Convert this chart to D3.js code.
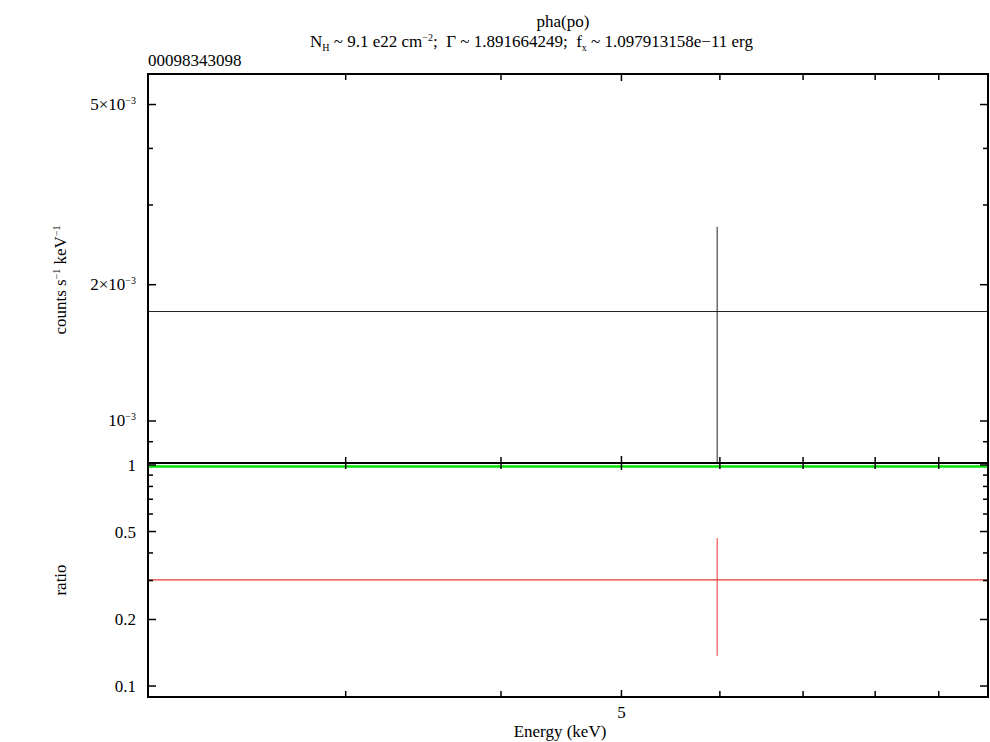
<!DOCTYPE html>
<html>
<head>
<meta charset="utf-8">
<script src="https://cdn.jsdelivr.net/npm/d3@7"></script>
<style>
  body { margin: 0; background: #fff; }
  svg text { fill: #000; }
</style>
</head>
<body>
<script>
// one spectral bin (keV)
var binLo = [2.08];
var binHi = [9.86];
var binMid = [5.97];
var rate = [1.745e-3];
var rateErr = [0.94e-3];
var ratio = [0.302];
var ratioErr = [0.165];
var ratioRef = [1];

var xTicks = [3, 4, 5, 6, 7, 8, 9];
var xLabels = [5];
var rateMajor = [1e-3, 2e-3, 5e-3];
var rateMantissa = ["", "2×", "5×"];
var rateMinor = [9e-4, 3e-3, 4e-3];
var ratioMajor = [0.1, 0.2, 0.5, 1];
var ratioText = ["0.1", "0.2", "0.5", "1"];
var ratioMinor = [0.3, 0.4, 0.6, 0.7, 0.8, 0.9];

var width = 990, height = 742;
var L = 148, R = 988, topY = 74, midY = 463, botY = 697;
var serif = "'Liberation Serif', 'DejaVu Serif', Times, serif";

var svg = d3.select("body").append("svg")
    .attr("width", width)
    .attr("height", height)
    .attr("font-family", serif)
    .style("font-family", serif);

var x = d3.scaleLog().domain([2.08, 9.86]).range([L, R]);
var yTop = d3.scaleLog().domain([0.8077e-3, 5.84e-3]).range([midY, topY]);
var yBot = d3.scaleLog().domain([0.0892, 1.021]).range([botY, midY]);

var defs = svg.append("defs");
defs.append("clipPath").attr("id", "clipTop").append("rect")
    .attr("x", L).attr("y", topY).attr("width", R - L).attr("height", midY - topY);
defs.append("clipPath").attr("id", "clipBot").append("rect")
    .attr("x", L).attr("y", midY).attr("width", R - L).attr("height", botY - midY);

// titles
svg.append("text")
    .attr("x", 563).attr("y", 27)
    .attr("text-anchor", "middle")
    .style("font-size", "17px")
    .text("pha(po)");

var t2 = svg.append("text")
    .attr("x", 310).attr("y", 47)
    .style("font-size", "17px")
    .attr("xml:space", "preserve");
t2.append("tspan").text("N");
t2.append("tspan").attr("dy", 4).style("font-size", "10px").text("H");
t2.append("tspan").attr("dy", -4).text(" ~ 9.1 e22 cm");
t2.append("tspan").attr("dy", -6).style("font-size", "10px").text("−2");
t2.append("tspan").attr("dy", 6).text(";  Γ ~ 1.891664249;  f");
t2.append("tspan").attr("dy", 4).style("font-size", "10px").text("x");
t2.append("tspan").attr("dy", -4).text(" ~ 1.097913158e−11 erg");

svg.append("text")
    .attr("x", L).attr("y", 66)
    .style("font-size", "17px")
    .text("00098343098");

// data: top panel
var gTop = svg.append("g").attr("clip-path", "url(#clipTop)");
gTop.selectAll(".hbar").data(rate).enter().append("line")
    .attr("x1", function(d, i) { return x(binLo[i]); })
    .attr("x2", function(d, i) { return x(binHi[i]); })
    .attr("y1", function(d) { return yTop(d); })
    .attr("y2", function(d) { return yTop(d); })
    .attr("stroke", "#222").attr("stroke-width", 1);
gTop.selectAll(".vbar").data(rate).enter().append("line")
    .attr("x1", function(d, i) { return x(binMid[i]); })
    .attr("x2", function(d, i) { return x(binMid[i]); })
    .attr("y1", function(d, i) { return yTop(d + rateErr[i]); })
    .attr("y2", function(d, i) { return yTop(Math.max(d - rateErr[i], 1e-5)); })
    .attr("stroke", "#222").attr("stroke-width", 1);

// data: ratio panel
var gBot = svg.append("g").attr("clip-path", "url(#clipBot)");
gBot.selectAll(".ref").data(ratioRef).enter().append("line")
    .attr("x1", L).attr("x2", R)
    .attr("y1", function(d) { return yBot(d) + 1.5; })
    .attr("y2", function(d) { return yBot(d) + 1.5; })
    .attr("stroke", "#00e000").attr("stroke-width", 2.5);
gBot.selectAll(".hbar").data(ratio).enter().append("line")
    .attr("x1", function(d, i) { return x(binLo[i]); })
    .attr("x2", function(d, i) { return x(binHi[i]); })
    .attr("y1", function(d) { return yBot(d); })
    .attr("y2", function(d) { return yBot(d); })
    .attr("stroke", "#e53935").attr("stroke-width", 1.2);
gBot.selectAll(".vbar").data(ratio).enter().append("line")
    .attr("x1", function(d, i) { return x(binMid[i]); })
    .attr("x2", function(d, i) { return x(binMid[i]); })
    .attr("y1", function(d, i) { return yBot(d + ratioErr[i]); })
    .attr("y2", function(d, i) { return yBot(d - ratioErr[i]); })
    .attr("stroke", "#e53935").attr("stroke-width", 1);

// frames
function frame(y0, y1) {
  svg.append("rect")
      .attr("x", L).attr("y", y0)
      .attr("width", R - L).attr("height", y1 - y0)
      .attr("fill", "none").attr("stroke", "#000").attr("stroke-width", 2);
}
frame(topY, midY);
frame(midY, botY);

// ticks
function xTickMarks(yEdge, dir) {
  svg.append("g").selectAll("line").data(xTicks).enter().append("line")
      .attr("x1", function(d) { return x(d); })
      .attr("x2", function(d) { return x(d); })
      .attr("y1", yEdge)
      .attr("y2", function(d) { return yEdge + dir * (d == 5 ? 7 : 6); })
      .attr("stroke", "#000").attr("stroke-width", 1.5);
}
xTickMarks(topY, 1);
xTickMarks(midY, -1);
xTickMarks(midY, 1);
xTickMarks(botY, -1);

function yTickMarks(scale, vals, len) {
  var g = svg.append("g");
  g.selectAll(".l").data(vals).enter().append("line")
      .attr("x1", L).attr("x2", L + len)
      .attr("y1", function(d) { return scale(d); })
      .attr("y2", function(d) { return scale(d); })
      .attr("stroke", "#000").attr("stroke-width", 1.5);
  g.selectAll(".r").data(vals).enter().append("line")
      .attr("x1", R).attr("x2", R - len)
      .attr("y1", function(d) { return scale(d); })
      .attr("y2", function(d) { return scale(d); })
      .attr("stroke", "#000").attr("stroke-width", 1.5);
}
yTickMarks(yTop, rateMajor, 8);
yTickMarks(yTop, rateMinor, 5);
yTickMarks(yBot, ratioMajor, 8);
yTickMarks(yBot, ratioMinor, 5);

// tick labels
rateMajor.forEach(function(v, i) {
  var t = svg.append("text")
      .attr("x", 136).attr("y", yTop(v) + 5)
      .attr("text-anchor", "end")
      .style("font-size", "17px");
  t.append("tspan").text(rateMantissa[i] + "10");
  t.append("tspan").attr("dy", -6).style("font-size", "10px").text("−3");
});

ratioMajor.forEach(function(v, i) {
  svg.append("text")
      .attr("x", 136).attr("y", yBot(v) + 6)
      .attr("text-anchor", "end")
      .style("font-size", "17px")
      .text(ratioText[i]);
});

xLabels.forEach(function(v) {
  svg.append("text")
      .attr("x", x(v)).attr("y", 718)
      .attr("text-anchor", "middle")
      .style("font-size", "17px")
      .text(v);
});

// axis titles
svg.append("text")
    .attr("x", 560).attr("y", 737)
    .attr("text-anchor", "middle")
    .style("font-size", "17px")
    .text("Energy (keV)");

var yl = svg.append("text")
    .attr("transform", "translate(66," + 280 + ") rotate(-90)")
    .attr("text-anchor", "middle")
    .style("font-size", "17px");
yl.append("tspan").text("counts s");
yl.append("tspan").attr("dy", -6).style("font-size", "10px").text("−1");
yl.append("tspan").attr("dy", 6).text(" keV");
yl.append("tspan").attr("dy", -6).style("font-size", "10px").text("−1");

svg.append("text")
    .attr("transform", "translate(66," + ((midY + botY) / 2) + ") rotate(-90)")
    .attr("text-anchor", "middle")
    .style("font-size", "17px")
    .text("ratio");
</script>
</body>
</html>
